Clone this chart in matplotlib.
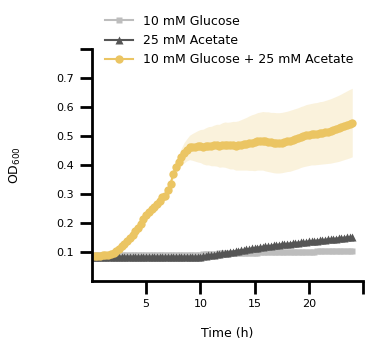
import numpy as np
import matplotlib
matplotlib.use('Agg')
import matplotlib.pyplot as plt

# readings every 15 min, 0 - 24 h
time = np.arange(0, 24.01, 0.25)

# one row per hour (4 readings), last value = 24 h
glucose = [0.088, 0.088, 0.088, 0.088,
           0.088, 0.089, 0.089, 0.089,
           0.089, 0.089, 0.089, 0.089,
           0.089, 0.089, 0.089, 0.089,
           0.089, 0.089, 0.089, 0.089,
           0.089, 0.089, 0.089, 0.089,
           0.089, 0.089, 0.090, 0.090,
           0.090, 0.090, 0.090, 0.090,
           0.090, 0.090, 0.090, 0.090,
           0.090, 0.090, 0.091, 0.091,
           0.091, 0.092, 0.092, 0.093,
           0.093, 0.094, 0.094, 0.095,
           0.095, 0.095, 0.096, 0.096,
           0.096, 0.096, 0.097, 0.097,
           0.097, 0.097, 0.098, 0.098,
           0.098, 0.098, 0.099, 0.099,
           0.099, 0.099, 0.099, 0.100,
           0.100, 0.100, 0.100, 0.100,
           0.100, 0.100, 0.101, 0.101,
           0.101, 0.101, 0.101, 0.101,
           0.101, 0.101, 0.101, 0.102,
           0.102, 0.102, 0.102, 0.102,
           0.102, 0.102, 0.102, 0.103,
           0.103, 0.103, 0.103, 0.103,
           0.103]

acetate = [0.084, 0.084, 0.084, 0.084,
           0.084, 0.084, 0.084, 0.084,
           0.084, 0.084, 0.084, 0.084,
           0.084, 0.084, 0.084, 0.084,
           0.084, 0.084, 0.084, 0.084,
           0.084, 0.084, 0.084, 0.084,
           0.084, 0.084, 0.084, 0.084,
           0.084, 0.084, 0.084, 0.084,
           0.084, 0.084, 0.084, 0.084,
           0.084, 0.084, 0.084, 0.084,
           0.084, 0.085, 0.087, 0.088,
           0.089, 0.091, 0.092, 0.094,
           0.095, 0.097, 0.098, 0.100,
           0.101, 0.103, 0.104, 0.106,
           0.107, 0.109, 0.110, 0.112,
           0.113, 0.115, 0.116, 0.118,
           0.119, 0.120, 0.121, 0.123,
           0.124, 0.125, 0.126, 0.127,
           0.128, 0.129, 0.130, 0.131,
           0.132, 0.133, 0.134, 0.135,
           0.136, 0.137, 0.138, 0.139,
           0.140, 0.141, 0.142, 0.143,
           0.144, 0.145, 0.146, 0.147,
           0.148, 0.149, 0.150, 0.150,
           0.151]

mix = [0.085, 0.085, 0.086, 0.087,
       0.088, 0.089, 0.091, 0.094,
       0.098, 0.104, 0.111, 0.119,
       0.128, 0.138, 0.149, 0.160,
       0.172, 0.184, 0.197, 0.212,
       0.226, 0.238, 0.247, 0.256,
       0.266, 0.276, 0.288, 0.294,
       0.312, 0.335, 0.368, 0.392,
       0.410, 0.428, 0.442, 0.452,
       0.460, 0.462, 0.463, 0.464,
       0.465, 0.463, 0.464, 0.466,
       0.465, 0.467, 0.468, 0.466,
       0.469, 0.470, 0.468, 0.467,
       0.468, 0.466, 0.467, 0.469,
       0.471, 0.473, 0.475, 0.477,
       0.478, 0.481, 0.482, 0.483,
       0.481, 0.480, 0.478, 0.477,
       0.476, 0.476, 0.477, 0.479,
       0.481, 0.483, 0.486, 0.489,
       0.492, 0.496, 0.499, 0.502,
       0.504, 0.506, 0.507, 0.508,
       0.510, 0.511, 0.513, 0.515,
       0.517, 0.520, 0.523, 0.526,
       0.530, 0.534, 0.538, 0.542,
       0.546]

mix_sd = [0.002, 0.002, 0.002, 0.002,
          0.002, 0.002, 0.002, 0.002,
          0.002, 0.002, 0.003, 0.003,
          0.003, 0.003, 0.003, 0.003,
          0.004, 0.004, 0.004, 0.004,
          0.005, 0.005, 0.005, 0.005,
          0.006, 0.006, 0.007, 0.008,
          0.010, 0.012, 0.015, 0.020,
          0.025, 0.030, 0.035, 0.038,
          0.042, 0.046, 0.050, 0.054,
          0.057, 0.060, 0.064, 0.066,
          0.068, 0.070, 0.072, 0.074,
          0.076, 0.078, 0.079, 0.081,
          0.082, 0.084, 0.085, 0.087,
          0.089, 0.091, 0.094, 0.096,
          0.098, 0.099, 0.100, 0.101,
          0.102, 0.103, 0.103, 0.104,
          0.104, 0.104, 0.104, 0.104,
          0.104, 0.105, 0.105, 0.105,
          0.105, 0.105, 0.105, 0.106,
          0.106, 0.106, 0.107, 0.107,
          0.108, 0.108, 0.109, 0.110,
          0.111, 0.112, 0.113, 0.114,
          0.115, 0.116, 0.117, 0.118,
          0.118]

labels = ['10 mM Glucose', '25 mM Acetate', '10 mM Glucose + 25 mM Acetate']
colors = ['#bdbdbd', '#555555', '#ebc563']

fig = plt.figure(figsize=(3.72, 3.49), dpi=100)
ax = fig.add_axes([0.247, 0.195, 0.729, 0.665])

ax.plot(time, glucose, color=colors[0], marker='s', ms=5, mec='none', lw=1.5, label=labels[0])
ax.plot(time, acetate, color=colors[1], marker='^', ms=6, mec='none', lw=1.5, label=labels[1])
m = np.array(mix)
s = np.array(mix_sd)
ax.fill_between(time, m - s, m + s, color=colors[2], alpha=0.22, lw=0)
ax.plot(time, mix, color=colors[2], marker='o', ms=6, mec='none', lw=1.5, label=labels[2])

ax.set_xlim(0, 25)
ax.set_ylim(0, 0.8)
ax.set_xticks([5, 10, 15, 20, 25])
ax.set_xticklabels(['5', '10', '15', '20', ''])
ax.set_yticks([0.1, 0.2, 0.3, 0.4, 0.5, 0.6, 0.7, 0.8])
ax.set_yticklabels(['0.1', '0.2', '0.3', '0.4', '0.5', '0.6', '0.7', ''])
ax.tick_params(axis='both', length=9, width=2, labelsize=8, pad=4)
for sp in ['top', 'right']:
    ax.spines[sp].set_visible(False)
for sp in ['left', 'bottom']:
    ax.spines[sp].set_linewidth(2)

ax.set_xlabel('Time (h)', fontsize=9, labelpad=13)
ax.set_ylabel('OD$_{600}$', fontsize=9)
ax.yaxis.set_label_coords(-0.255, 0.5)

ax.legend(loc='lower left', bbox_to_anchor=(0.03, 0.903), frameon=False, fontsize=9,
          handlelength=2.2, labelspacing=0.5, borderaxespad=0)

fig.savefig('out.png', dpi=100)
